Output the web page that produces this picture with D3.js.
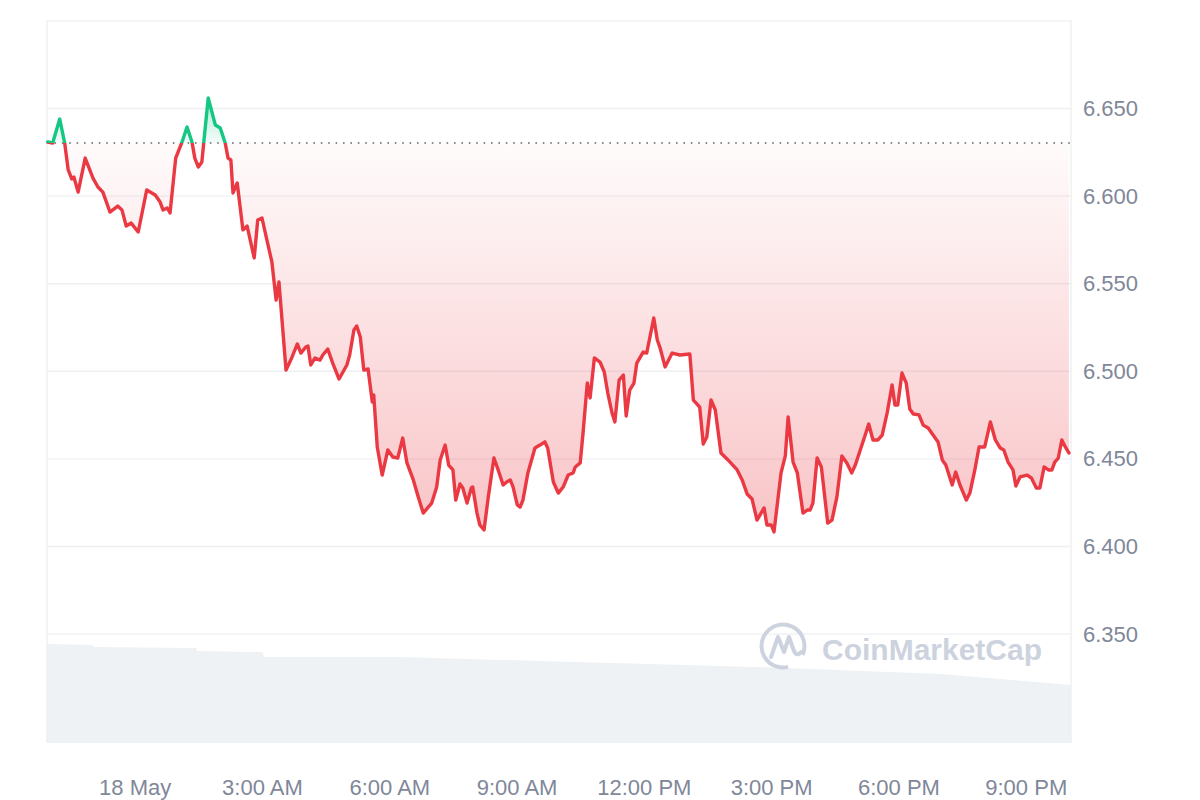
<!DOCTYPE html>
<html><head><meta charset="utf-8">
<script src="https://cdn.jsdelivr.net/npm/d3@7"></script>
<style>
html,body{margin:0;padding:0;background:#fff;}
svg{display:block;font-family:"Liberation Sans",Arial,Helvetica,sans-serif;}
</style>
</head><body>
<svg id="chart" width="1200" height="800"></svg>
<script>
// ---------- data ----------
const startTime = new Date(2024, 4, 17, 21, 56);   // window start
const windowMinutes = 1448;                          // window length (minutes)
const openPrice = 6.6303;                            // reference (dotted) price

const priceMinutes = [1,8,18,25,30,35,38,44,54,65,72,79,89,100,106,112,119,129,141,153,160,164,170,174,182,191,198,205,209,214,219,222,228,238,245,252,256,260,263,269,277,283,293,298,304,311,318,324,328,338,346,354,359,366,369,373,379,386,390,397,404,413,424,428,434,438,443,448,454,460,462,467,474,482,489,496,503,509,518,525,532,544,551,556,563,568,574,578,584,588,594,600,602,608,612,618,624,632,638,645,650,655,659,665,669,673,680,690,697,704,708,716,723,730,737,744,747,754,758,764,768,774,782,788,793,799,803,809,815,819,824,830,834,843,848,858,863,867,874,884,895,909,914,923,928,933,939,945,953,963,976,983,990,997,1004,1014,1018,1024,1028,1038,1044,1048,1055,1061,1069,1075,1079,1083,1089,1095,1104,1110,1117,1124,1131,1138,1143,1150,1157,1162,1168,1175,1181,1188,1195,1199,1203,1209,1215,1220,1225,1233,1239,1246,1253,1260,1266,1271,1280,1285,1291,1300,1305,1312,1318,1326,1334,1341,1348,1353,1359,1366,1370,1376,1386,1392,1399,1404,1410,1416,1421,1425,1430,1435,1440,1445];

const prices = [6.6309,6.6303,6.6440,6.6303,6.6149,6.6098,6.6109,6.6023,6.6217,6.6103,6.6052,6.6023,6.5909,6.5943,6.5921,6.5829,6.5846,6.5795,6.6035,6.6006,6.5966,6.5921,6.5932,6.5904,6.6217,6.6309,6.6394,6.6309,6.6217,6.6166,6.6195,6.6320,6.6560,6.6406,6.6389,6.6303,6.6217,6.6206,6.6018,6.6075,6.5807,6.5829,6.5647,6.5864,6.5875,6.5749,6.5624,6.5407,6.5510,6.5007,6.5076,6.5156,6.5104,6.5139,6.5144,6.5036,6.5076,6.5064,6.5093,6.5127,6.5047,6.4956,6.5036,6.5093,6.5236,6.5259,6.5196,6.5007,6.5013,6.4825,6.4865,6.4568,6.4408,6.4551,6.4511,6.4505,6.4619,6.4477,6.4380,6.4283,6.4191,6.4248,6.4340,6.4494,6.4579,6.4465,6.4437,6.4265,6.4357,6.4334,6.4248,6.4334,6.4340,6.4191,6.4123,6.4094,6.4283,6.4505,6.4437,6.4351,6.4368,6.4380,6.4340,6.4237,6.4225,6.4265,6.4420,6.4562,6.4579,6.4597,6.4562,6.4368,6.4305,6.4340,6.4408,6.4420,6.4454,6.4477,6.4648,6.4933,6.4848,6.5076,6.5053,6.4996,6.4876,6.4762,6.4711,6.4950,6.4979,6.4745,6.4893,6.4933,6.5047,6.5110,6.5104,6.5304,6.5179,6.5133,6.5025,6.5104,6.5093,6.5099,6.4836,6.4796,6.4585,6.4625,6.4836,6.4779,6.4534,6.4494,6.4437,6.4380,6.4300,6.4271,6.4151,6.4220,6.4123,6.4123,6.4083,6.4420,6.4517,6.4739,6.4482,6.4420,6.4191,6.4208,6.4208,6.4248,6.4505,6.4454,6.4134,6.4151,6.4283,6.4517,6.4477,6.4420,6.4465,6.4551,6.4636,6.4699,6.4608,6.4608,6.4636,6.4762,6.4922,6.4808,6.4808,6.4990,6.4933,6.4785,6.4756,6.4751,6.4693,6.4676,6.4636,6.4597,6.4494,6.4465,6.4351,6.4425,6.4351,6.4265,6.4305,6.4437,6.4568,6.4568,6.4711,6.4608,6.4562,6.4551,6.4482,6.4437,6.4345,6.4397,6.4408,6.4391,6.4334,6.4334,6.4454,6.4437,6.4437,6.4482,6.4505,6.4608,6.4568,6.4534];

const volumeMinutes = [0,65,66,211,212,305,307,499,697,853,1044,1266,1448];
const volumes = [99,98,96,95,92,91,86,86,82,79,75,69,58];

const priceTicks = [6.35,6.40,6.45,6.50,6.55,6.60,6.65];
const gridPrices = [6.35,6.40,6.45,6.50,6.55,6.60,6.65,6.70];

// ---------- layout ----------
const W = 1200, H = 800;
const pL = 47, pR = 1071, pT = 20, pB = 743;
const RED = "#ea3943", GREEN = "#16c784";

const svg = d3.select("#chart");
const defs = svg.append("defs");

const tm = m => d3.timeMinute.offset(startTime, m);
const x = d3.scaleTime().domain([startTime, tm(windowMinutes)]).range([pL, pR]);
const y = d3.scaleLinear().domain([6.35, 6.70]).range([634.1, 20.9]);
const yv = d3.scaleLinear().domain([0, 100]).range([pB, pB - 100]);

const priceData = priceMinutes.map((m, i) => ({t: tm(m), v: prices[i]}));
const volData = volumeMinutes.map((m, i) => ({t: tm(m), v: volumes[i]}));
const yBase = y(openPrice);

// grid
svg.append("g").selectAll("line").data(gridPrices).join("line")
  .attr("x1", pL).attr("x2", pR)
  .attr("y1", d => y(d)).attr("y2", d => y(d))
  .attr("stroke", "#eef0f3").attr("stroke-width", 1.4);

// volume area
svg.append("path").datum(volData)
  .attr("fill", "#eff2f5")
  .attr("d", d3.area().x(d => x(d.t)).y0(pB).y1(d => yv(d.v)));

// borders
svg.append("line").attr("x1", pL).attr("x2", pL).attr("y1", pT).attr("y2", pB)
  .attr("stroke", "#eceef2").attr("stroke-width", 1.3);
svg.append("line").attr("x1", pR).attr("x2", pR).attr("y1", pT).attr("y2", pB)
  .attr("stroke", "#eceef2").attr("stroke-width", 1.3);

// gradients
const gRed = defs.append("linearGradient").attr("id", "gRed")
  .attr("gradientUnits", "userSpaceOnUse").attr("x1", 0).attr("x2", 0)
  .attr("y1", yBase).attr("y2", y(6.408));
gRed.append("stop").attr("offset", 0).attr("stop-color", RED).attr("stop-opacity", 0.02);
gRed.append("stop").attr("offset", 1).attr("stop-color", RED).attr("stop-opacity", 0.3);
const gGreen = defs.append("linearGradient").attr("id", "gGreen")
  .attr("gradientUnits", "userSpaceOnUse").attr("x1", 0).attr("x2", 0)
  .attr("y1", yBase).attr("y2", y(6.656));
gGreen.append("stop").attr("offset", 0).attr("stop-color", GREEN).attr("stop-opacity", 0.05);
gGreen.append("stop").attr("offset", 1).attr("stop-color", GREEN).attr("stop-opacity", 0.35);

// clip paths
defs.append("clipPath").attr("id", "clipAbove").append("rect")
  .attr("x", 0).attr("y", 0).attr("width", W).attr("height", yBase);
defs.append("clipPath").attr("id", "clipBelow").append("rect")
  .attr("x", 0).attr("y", yBase).attr("width", W).attr("height", H - yBase);

const area = d3.area().x(d => x(d.t)).y0(yBase).y1(d => y(d.v));
const line = d3.line().x(d => x(d.t)).y(d => y(d.v));

svg.append("path").datum(priceData).attr("clip-path", "url(#clipBelow)")
  .attr("fill", "url(#gRed)").attr("d", area);
svg.append("path").datum(priceData).attr("clip-path", "url(#clipAbove)")
  .attr("fill", "url(#gGreen)").attr("d", area);

// reference dotted line
svg.append("line").attr("x1", pL).attr("x2", pR).attr("y1", yBase).attr("y2", yBase)
  .attr("stroke", "#666").attr("stroke-width", 1.6)
  .attr("stroke-dasharray", "1.6,5.8");

// price line
svg.append("path").datum(priceData).attr("clip-path", "url(#clipBelow)")
  .attr("fill", "none").attr("stroke", RED).attr("stroke-width", 3.4)
  .attr("stroke-linejoin", "round").attr("stroke-linecap", "round").attr("d", line);
svg.append("path").datum(priceData).attr("clip-path", "url(#clipAbove)")
  .attr("fill", "none").attr("stroke", GREEN).attr("stroke-width", 3.4)
  .attr("stroke-linejoin", "round").attr("stroke-linecap", "round").attr("d", line);

// watermark
const wm = svg.append("g");
wm.append("path")
  .attr("d", d3.arc()({innerRadius: 19.5, outerRadius: 23.5, startAngle: 2.9, endAngle: 2.9 + 2 * Math.PI - 0.9}))
  .attr("transform", "translate(783,646)").attr("fill", "#cdd3de");
wm.append("path")
  .attr("d", "M771,657 L778,637 L784,652 L789,637 L794,651 Q797,657 801,652")
  .attr("fill", "none").attr("stroke", "#cdd3de").attr("stroke-width", 4)
  .attr("stroke-linejoin", "round").attr("stroke-linecap", "round");
wm.append("text").attr("x", 822).attr("y", 660)
  .attr("font-size", 30).attr("font-weight", 700).attr("fill", "#cdd3de")
  .text("CoinMarketCap");

// x axis
const fmtDay = d3.timeFormat("%-d %b"), fmtHour = d3.timeFormat("%-I:%M %p");
const xAxis = d3.axisBottom(x).ticks(d3.timeHour.every(3)).tickSize(0)
  .tickFormat(d => d.getHours() === 0 ? fmtDay(d) : fmtHour(d));
const gx = svg.append("g").attr("transform", `translate(0,${pB})`).call(xAxis);
gx.select(".domain").remove();
gx.selectAll("text").attr("dy", null).attr("y", 52)
  .attr("font-size", 22).attr("fill", "#7f8799")
  .attr("font-family", '"Liberation Sans",Arial,sans-serif');

// y axis
const yAxis = d3.axisRight(y).tickValues(priceTicks).tickSize(0).tickFormat(d3.format(".3f"));
const gy = svg.append("g").attr("transform", `translate(${pR + 12},0)`).call(yAxis);
gy.select(".domain").remove();
gy.selectAll("text").attr("x", 0)
  .attr("font-size", 22).attr("fill", "#7f8799")
  .attr("font-family", '"Liberation Sans",Arial,sans-serif');
</script>
</body></html>
